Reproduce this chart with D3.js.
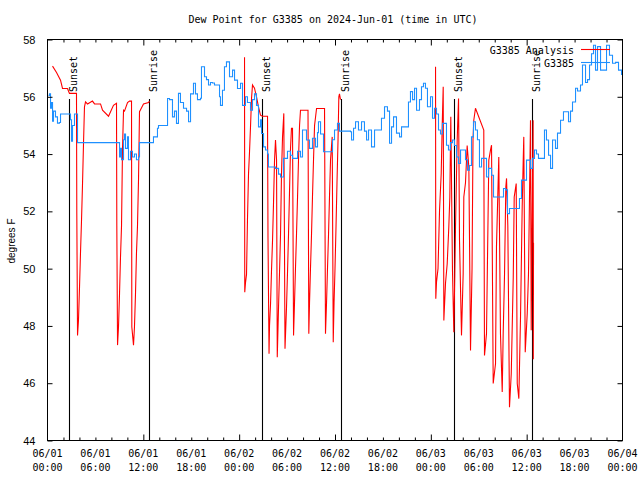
<!DOCTYPE html>
<html>
<head>
<meta charset="utf-8">
<script src="https://cdn.jsdelivr.net/npm/d3@7"></script>
<style>
  html, body { margin: 0; padding: 0; background: #fff; }
  svg { display: block; }
  .mono { font-family: "DejaVu Sans Mono", "Liberation Mono", monospace; font-size: 10px; }
  .sans { font-family: "Liberation Sans", Arial, sans-serif; font-size: 11px; }
</style>
</head>
<body>
<svg id="chart" width="640" height="480"></svg>
<script>
// ---------------- DATA ----------------
const titleText = "Dew Point for G3385 on 2024-Jun-01 (time in UTC)";
const yLabel = "degrees F";
const seriesNames = ["G3385 Analysis", "G3385"];

// x tick labels every 6 hours (hours since 2024-06-01 00:00 UTC)
const xLabelHours = [0, 6, 12, 18, 24, 30, 36, 42, 48, 54, 60, 66, 72];
const xLabelDates = ["06/01","06/01","06/01","06/01","06/02","06/02","06/02","06/02","06/03","06/03","06/03","06/03","06/04"];
const xLabelTimes = ["00:00","06:00","12:00","18:00","00:00","06:00","12:00","18:00","00:00","06:00","12:00","18:00","00:00"];
const xMinorTickHours = [2,4,6,8,10,14,16,18,20,22,26,28,30,32,34,38,40,42,44,46,50,52,54,56,58,62,64,66,68,70];
const xMajorTickHours = [12, 24, 36, 48, 60];
const yTicks = [44, 46, 48, 50, 52, 54, 56, 58];

// sunrise / sunset (hours)
const sunHours = [2.75, 12.65, 26.88, 36.69, 50.88, 60.69];
const sunNames = ["Sunset", "Sunrise", "Sunset", "Sunrise", "Sunset", "Sunrise"];

// Blue series "G3385"
const blueHours = [0.13,0.25,0.38,0.50,0.63,0.75,1.00,1.25,1.50,1.63,2.75,2.88,3.01,3.13,3.38,3.63,3.76,8.77,9.02,9.14,9.27,9.52,9.64,9.77,10.02,10.14,10.39,10.64,10.89,11.14,11.40,11.52,12.90,13.27,13.77,13.90,14.90,15.03,15.28,15.65,15.90,16.15,16.40,16.65,17.03,17.41,17.66,17.91,18.28,18.53,18.78,19.16,19.28,19.66,19.91,20.16,20.41,20.66,20.91,21.29,21.54,21.66,21.91,22.16,22.41,22.79,23.17,23.42,23.79,24.17,24.42,24.79,25.04,25.42,25.67,25.92,26.17,26.42,26.67,26.80,27.05,27.30,27.55,27.67,28.55,28.93,29.18,29.55,30.05,30.43,30.68,31.05,31.31,31.68,31.93,32.43,32.81,33.18,33.56,33.81,33.93,34.19,34.56,34.94,35.44,35.69,35.94,36.31,36.56,37.94,38.07,38.32,38.57,38.94,39.32,39.69,39.95,40.20,40.57,40.95,41.57,41.82,42.20,42.57,42.83,43.08,43.33,43.70,44.08,44.33,45.08,45.20,45.45,45.71,45.96,46.21,46.58,46.83,47.08,47.33,47.58,47.96,48.21,48.46,48.71,48.96,49.21,49.46,49.71,49.96,50.21,50.46,50.71,50.96,51.22,51.47,51.72,52.09,52.34,52.59,52.84,53.09,53.34,53.59,53.84,54.09,54.35,54.72,54.97,55.22,55.60,55.85,56.72,57.10,57.35,57.60,57.85,58.85,59.10,59.35,59.73,59.98,60.23,60.48,60.73,60.98,61.23,61.48,62.11,62.23,62.48,62.74,62.99,63.24,63.61,63.86,64.24,64.61,64.99,65.24,65.49,65.74,66.12,66.37,66.74,66.99,67.37,67.62,67.87,68.12,68.37,68.62,68.87,69.25,69.62,70.00,70.37,70.75,71.13,71.50,71.88];
const blueValues = [56.05,56.1,55.6,55.8,55.15,55.5,55.3,55.08,55.1,55.4,55.4,55.2,54.45,55.0,55.4,55.4,54.4,54.4,53.9,54.2,53.8,54.5,54.7,54.2,54.6,53.8,54.1,53.9,54.0,53.8,53.9,54.4,54.4,54.6,54.9,55.0,55.0,55.94,55.9,55.3,55.5,55.07,56.12,55.8,55.6,55.5,55.13,56.1,56.47,56.1,55.9,55.95,57.05,56.7,56.6,56.41,56.5,56.48,56.41,56.41,56.0,55.7,56.23,57.05,57.22,56.7,56.93,56.58,56.29,56.47,55.7,56.0,55.8,55.53,55.9,56.1,55.7,54.95,55.2,54.72,54.25,54.14,54.0,53.55,53.5,53.3,53.2,53.85,54.1,53.96,53.85,53.85,54.1,53.9,54.84,54.49,54.2,54.55,54.25,54.75,55.13,54.7,54.08,54.08,54.08,54.5,54.84,55.07,54.8,54.78,54.49,54.9,55.13,54.84,55.13,54.8,54.49,54.84,54.25,54.84,54.84,55.25,55.65,55.5,54.38,54.95,55.3,54.73,54.6,54.95,54.95,55.82,56.18,55.9,56.3,55.53,55.9,56.35,56.47,56.3,55.65,56.0,55.25,55.6,55.4,54.84,54.7,55.07,55.07,54.31,54.14,54.4,54.49,54.3,53.9,53.67,54.14,54.14,53.8,53.44,53.6,54.6,55.13,54.84,54.5,53.55,53.85,53.85,53.2,53.5,53.26,52.5,52.5,52.8,52.75,51.92,52.1,52.1,52.45,53.09,53.09,53.79,53.79,53.5,53.85,54.14,54.0,53.85,53.85,54.84,54.49,53.96,53.5,54.49,54.2,54.73,55.18,55.48,55.48,55.13,55.5,55.82,56.3,56.2,56.41,57.11,56.5,56.6,57.11,57.5,57.8,56.93,57.75,56.93,56.93,57.8,57.45,57.17,57.2,56.93,56.76];

// Red series "G3385 Analysis" (null = no data)
const redHours = [0.63,1.13,1.63,1.88,2.50,2.75,3.63,3.67,3.76,3.88,4.01,4.13,4.26,4.38,4.51,4.63,4.76,5.01,5.63,5.89,6.64,6.89,7.64,8.26,8.64,8.68,8.77,8.89,9.02,9.14,9.27,9.39,9.52,9.64,10.02,10.27,10.52,10.56,10.77,10.89,11.02,11.14,11.27,11.40,11.52,11.65,12.02,12.65,12.77,
  18.0,
  24.67,24.70,24.79,24.92,25.04,25.17,25.30,25.42,25.55,25.67,25.92,26.17,26.42,26.67,26.92,27.55,27.61,27.74,27.80,27.93,28.05,28.18,28.30,28.43,28.55,28.68,28.77,28.93,29.05,29.18,29.30,29.43,29.59,29.74,29.93,30.05,30.18,30.30,30.43,30.55,30.68,30.81,30.93,31.05,31.18,31.31,31.43,31.56,31.68,32.62,32.72,32.81,32.93,33.06,33.18,33.31,33.44,33.69,34.69,34.81,34.94,35.06,35.19,35.31,35.44,35.65,35.78,35.88,36.00,36.13,36.25,36.38,36.48,36.56,36.69,
  42.0,
  48.59,48.62,48.71,48.90,49.09,49.30,49.43,49.55,49.63,49.84,50.05,50.25,50.38,50.50,50.71,50.88,51.00,51.09,51.30,51.47,51.59,51.84,52.05,52.13,52.34,52.55,52.76,52.97,53.16,53.28,53.38,53.59,54.63,54.72,54.97,55.26,55.47,55.60,55.81,56.10,56.22,56.51,56.72,56.94,57.06,57.23,57.39,57.48,57.64,57.85,58.07,58.32,58.44,58.69,58.82,59.02,59.23,59.44,59.57,59.64,59.82,60.07,60.23,60.48,60.57,60.65,60.81,60.83,60.86];
const redValues = [57.07,56.85,56.58,56.29,56.29,56.12,56.12,51.9,47.67,48.2,49.36,50.53,51.69,52.9,54.38,55.65,55.82,55.75,55.85,55.75,55.75,55.53,55.32,55.7,55.77,51.5,47.33,47.96,49.13,50.4,51.5,54.14,55.53,55.5,55.8,55.85,55.85,47.96,47.33,47.96,49.13,50.53,51.5,53.15,55.48,55.55,55.75,55.8,55.85,
  null,
  57.38,49.18,49.5,49.8,51.7,53.3,54.1,54.95,55.95,56.41,56.3,56.0,55.65,55.36,55.32,55.32,51.1,47.03,48.0,48.78,49.94,51.0,52.27,53.79,54.49,53.8,46.91,48.66,49.83,51.2,53.3,54.6,55.42,47.2,48.66,49.83,51.2,52.62,54.2,54.9,54.9,47.67,48.8,50.0,51.2,52.5,53.8,55.0,55.53,55.53,47.73,48.8,50.0,51.2,52.5,53.8,55.0,55.59,55.59,47.73,48.8,50.0,51.2,52.5,53.8,54.6,47.43,48.8,50.0,51.5,53.0,54.5,56.0,56.1,55.9,
  null,
  57.05,48.95,49.53,50.0,52.04,53.32,55.07,56.35,48.19,49.5,50.17,51.45,52.5,55.3,49.94,47.78,49.83,51.45,54.5,55.94,51.0,47.67,49.83,52.5,53.0,54.3,53.55,47.14,50.0,54.5,55.18,55.6,54.84,46.97,47.73,53.79,54.14,54.31,45.99,46.68,50.76,53.9,47.73,45.69,47.73,49.83,52.85,53.15,51.51,45.16,46.33,49.71,52.5,52.97,45.99,45.46,48.31,52.15,53.8,54.6,47.08,48.43,49.83,55.18,47.85,50.99,55.18,46.84,50.9];

// ---------------- CHART ----------------
const svg = d3.select("#chart");
const L = 47.5, R = 622.5, T = 39.5, B = 440.5;

const x = d3.scaleLinear().domain([0, 72]).range([L, R]);
const y = d3.scaleLinear().domain([44, 58]).range([B, T]);

const RED = "#ff0000", BLUE = "#1e90ff";

// title
svg.append("text").attr("class", "mono")
  .attr("x", 333).attr("y", 23).attr("text-anchor", "middle")
  .attr("fill", "#000").text(titleText);

// y axis title
svg.append("text").attr("class", "sans").style("font-size", "10px")
  .attr("transform", "translate(15,241) rotate(-90)")
  .attr("text-anchor", "middle").attr("fill", "#000").text(yLabel);

// clip
svg.append("clipPath").attr("id", "plotclip").append("rect")
  .attr("x", L).attr("y", T).attr("width", R - L).attr("height", B - T);

// sunrise / sunset lines + labels
const sun = svg.append("g");
sunHours.forEach((h, i) => {
  const sx = Math.round(x(h)) + 0.5;
  sun.append("line").attr("x1", sx).attr("x2", sx).attr("y1", 99).attr("y2", B)
    .attr("stroke", "#000").attr("stroke-width", 1.1);
  sun.append("text").attr("class", "mono")
    .attr("transform", `translate(${sx + 7},92) rotate(-90)`)
    .attr("text-anchor", "start").attr("fill", "#000").text(sunNames[i]);
});

// data lines
const plot = svg.append("g").attr("clip-path", "url(#plotclip)");
const redData = redHours.map((h, i) => ({ h, v: redValues[i] }));
const blueData = blueHours.map((h, i) => ({ h, v: blueValues[i] }));

const redLine = d3.line().defined(d => d.v != null).x(d => x(d.h)).y(d => y(d.v));
const blueLine = d3.line().x(d => x(d.h)).y(d => y(d.v)).curve(d3.curveStepAfter);

plot.append("path").datum(redData).attr("d", redLine)
  .attr("fill", "none").attr("stroke", RED).attr("stroke-width", 1.1);
plot.append("path").datum(blueData).attr("d", blueLine)
  .attr("fill", "none").attr("stroke", BLUE).attr("stroke-width", 1.1);

// axes ticks
function noDomain(g) { g.select(".domain").remove(); }
svg.append("g").attr("transform", `translate(0,${B})`)
  .call(d3.axisBottom(x).tickValues(xMinorTickHours).tickSize(-3).tickFormat(""))
  .call(noDomain);
svg.append("g").attr("transform", `translate(0,${B})`)
  .call(d3.axisBottom(x).tickValues(xMajorTickHours).tickSize(-6).tickFormat(""))
  .call(noDomain);
svg.append("g").attr("transform", `translate(0,${T})`)
  .call(d3.axisTop(x).tickValues(xMinorTickHours).tickSize(-3).tickFormat(""))
  .call(noDomain);
svg.append("g").attr("transform", `translate(0,${T})`)
  .call(d3.axisTop(x).tickValues(xMajorTickHours).tickSize(-6).tickFormat(""))
  .call(noDomain);

const yAxisL = svg.append("g").attr("transform", `translate(${L},0)`)
  .call(d3.axisLeft(y).tickValues(yTicks).tickSize(-5).tickPadding(12).tickFormat(d3.format("d")))
  .call(noDomain);
yAxisL.selectAll("text").attr("class", "sans").style("font-size", "11px")
  .attr("fill", "#000").attr("font-family", null);
svg.append("g").attr("transform", `translate(${R},0)`)
  .call(d3.axisRight(y).tickValues(yTicks).tickSize(-5).tickFormat(""))
  .call(noDomain);
svg.selectAll(".tick line").attr("stroke", "#000");

// x labels (two lines)
const xl = svg.append("g");
xLabelHours.forEach((h, i) => {
  const t = xl.append("text").attr("class", "mono").attr("text-anchor", "middle").attr("fill", "#000");
  t.append("tspan").attr("x", x(h)).attr("y", 457).text(xLabelDates[i]);
  t.append("tspan").attr("x", x(h)).attr("y", 471).text(xLabelTimes[i]);
});

// frame
svg.append("rect").attr("x", L).attr("y", T).attr("width", R - L).attr("height", B - T)
  .attr("fill", "none").attr("stroke", "#000").attr("stroke-width", 1);

// legend
const legColors = [RED, BLUE];
const leg = svg.append("g");
seriesNames.forEach((name, i) => {
  const ly = 50 + i * 13;
  leg.append("text").attr("class", "mono").attr("x", 574).attr("y", ly + 3.5)
    .attr("text-anchor", "end").attr("fill", "#000").text(name);
  leg.append("line").attr("x1", 581).attr("x2", 610).attr("y1", ly - 0.5).attr("y2", ly - 0.5)
    .attr("stroke", legColors[i]).attr("stroke-width", 1.1);
});
</script>
</body>
</html>
